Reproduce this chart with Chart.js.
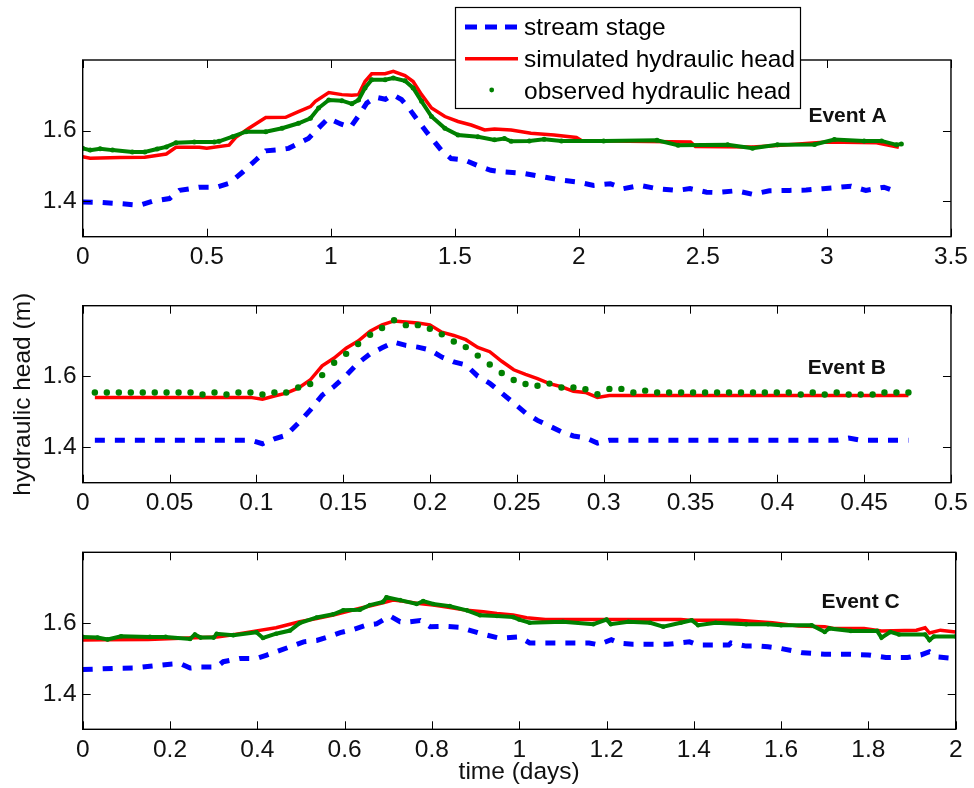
<!DOCTYPE html>
<html><head><meta charset="utf-8">
<script src="https://cdn.jsdelivr.net/npm/chart.js@4"></script>
<style>
html,body{margin:0;padding:0;background:#fff;}
#wrap{position:relative;width:974px;height:788px;overflow:hidden;background:#fff;}
canvas{position:absolute;left:0;}
</style></head><body>
<div id="wrap">
<canvas id="cA" width="974" height="280" style="top:0px"></canvas>
<canvas id="cB" width="974" height="250" style="top:280px"></canvas>
<canvas id="cC" width="974" height="258" style="top:530px"></canvas>
</div>
<script>
// ---------- Series names ----------
const seriesNames = ['stream stage', 'simulated hydraulic head', 'observed hydraulic head'];
const eventNames = ['Event A', 'Event B', 'Event C'];
const yAxisTitle = 'hydraulic head (m)';
const xAxisTitle = 'time (days)';

// ---------- Tick values ----------
const yTicks = [1.4, 1.6];
const xTicksA = [0, 0.5, 1, 1.5, 2, 2.5, 3, 3.5];
const xTicksB = [0, 0.05, 0.1, 0.15, 0.2, 0.25, 0.3, 0.35, 0.4, 0.45, 0.5];
const xTicksC = [0, 0.2, 0.4, 0.6, 0.8, 1, 1.2, 1.4, 1.6, 1.8, 2];
const xLabelsA = ['0', '0.5', '1', '1.5', '2', '2.5', '3', '3.5'];
const xLabelsB = ['0', '0.05', '0.1', '0.15', '0.2', '0.25', '0.3', '0.35', '0.4', '0.45', '0.5'];
const xLabelsC = ['0', '0.2', '0.4', '0.6', '0.8', '1', '1.2', '1.4', '1.6', '1.8', '2'];

// ---------- Event A ----------
const stageA_t = [0, 0.07, 0.16, 0.23, 0.28, 0.35, 0.39, 0.47, 0.54, 0.59, 0.645, 0.698, 0.738, 0.79, 0.83, 0.87, 0.91, 0.95, 0.99, 1.04, 1.08, 1.11, 1.145, 1.18, 1.22, 1.25, 1.285, 1.31, 1.35, 1.39, 1.445, 1.485, 1.54, 1.59, 1.645, 1.70, 1.78, 1.86, 1.93, 1.994, 2.06, 2.127, 2.18, 2.247, 2.315, 2.395, 2.448, 2.515, 2.555, 2.635, 2.70, 2.768, 2.848, 2.916, 2.983, 3.036, 3.097, 3.157, 3.23, 3.29];
const stageA_v = [1.398, 1.397, 1.393, 1.389, 1.400, 1.408, 1.431, 1.440, 1.440, 1.451, 1.483, 1.517, 1.543, 1.546, 1.550, 1.564, 1.578, 1.607, 1.635, 1.619, 1.610, 1.640, 1.678, 1.695, 1.689, 1.702, 1.688, 1.668, 1.630, 1.593, 1.545, 1.521, 1.517, 1.502, 1.488, 1.483, 1.479, 1.469, 1.460, 1.455, 1.445, 1.450, 1.436, 1.445, 1.436, 1.431, 1.436, 1.426, 1.425, 1.430, 1.420, 1.430, 1.431, 1.432, 1.436, 1.439, 1.443, 1.431, 1.440, 1.425];

const simA_t = [0, 0.03, 0.15, 0.25, 0.337, 0.376, 0.47, 0.5, 0.59, 0.617, 0.67, 0.738, 0.818, 0.87, 0.918, 0.938, 0.992, 1.045, 1.085, 1.112, 1.138, 1.165, 1.219, 1.252, 1.299, 1.332, 1.366, 1.406, 1.46, 1.513, 1.566, 1.62, 1.66, 1.727, 1.807, 1.90, 1.99, 2.01, 2.2, 2.45, 2.47, 2.7, 2.8, 3.0, 3.2, 3.29];
const simA_v = [1.526, 1.522, 1.524, 1.525, 1.534, 1.553, 1.553, 1.550, 1.559, 1.581, 1.607, 1.637, 1.638, 1.654, 1.668, 1.683, 1.708, 1.702, 1.700, 1.702, 1.739, 1.761, 1.761, 1.768, 1.756, 1.739, 1.702, 1.664, 1.640, 1.626, 1.616, 1.602, 1.605, 1.602, 1.593, 1.588, 1.581, 1.572, 1.570, 1.568, 1.555, 1.554, 1.558, 1.568, 1.566, 1.553];

const obsA_t = [0, 0.03, 0.07, 0.12, 0.2, 0.25, 0.3, 0.337, 0.376, 0.45, 0.53, 0.55, 0.604, 0.658, 0.738, 0.804, 0.87, 0.918, 0.951, 0.992, 1.045, 1.085, 1.112, 1.138, 1.165, 1.219, 1.252, 1.299, 1.332, 1.366, 1.406, 1.46, 1.513, 1.593, 1.66, 1.70, 1.727, 1.80, 1.86, 1.93, 2.1, 2.315, 2.4, 2.6, 2.70, 2.8, 2.95, 3.03, 3.15, 3.22, 3.28, 3.3];
const obsA_v = [1.550, 1.545, 1.549, 1.545, 1.540, 1.540, 1.548, 1.554, 1.566, 1.568, 1.568, 1.570, 1.583, 1.597, 1.597, 1.607, 1.621, 1.635, 1.664, 1.687, 1.685, 1.676, 1.687, 1.721, 1.744, 1.744, 1.749, 1.741, 1.721, 1.683, 1.640, 1.607, 1.588, 1.583, 1.574, 1.578, 1.570, 1.571, 1.576, 1.571, 1.571, 1.573, 1.559, 1.560, 1.550, 1.560, 1.561, 1.575, 1.571, 1.571, 1.560, 1.562];

// ---------- Event B (10-minute samples) ----------
const timeB = [0.0070, 0.0139, 0.0208, 0.0277, 0.0346, 0.0415, 0.0483, 0.0552, 0.0621, 0.0690, 0.0759, 0.0828, 0.0897, 0.0966, 0.1035, 0.1104, 0.1172, 0.1241, 0.1310, 0.1379, 0.1448, 0.1517, 0.1586, 0.1655, 0.1724, 0.1793, 0.1861, 0.1930, 0.1999, 0.2068, 0.2137, 0.2206, 0.2275, 0.2344, 0.2413, 0.2482, 0.2550, 0.2619, 0.2688, 0.2757, 0.2826, 0.2895, 0.2964, 0.3033, 0.3102, 0.3171, 0.3239, 0.3308, 0.3377, 0.3446, 0.3515, 0.3584, 0.3653, 0.3722, 0.3791, 0.3860, 0.3928, 0.3997, 0.4066, 0.4135, 0.4204, 0.4273, 0.4342, 0.4411, 0.4480, 0.4549, 0.4617, 0.4686, 0.4755];
const stageB = [1.420, 1.420, 1.420, 1.420, 1.420, 1.420, 1.420, 1.420, 1.420, 1.420, 1.420, 1.420, 1.420, 1.420, 1.410, 1.424, 1.434, 1.468, 1.505, 1.547, 1.572, 1.603, 1.638, 1.664, 1.681, 1.697, 1.688, 1.683, 1.675, 1.655, 1.641, 1.633, 1.601, 1.581, 1.553, 1.525, 1.497, 1.476, 1.460, 1.444, 1.432, 1.427, 1.412, 1.420, 1.420, 1.420, 1.420, 1.420, 1.420, 1.420, 1.420, 1.420, 1.420, 1.420, 1.420, 1.420, 1.420, 1.420, 1.420, 1.420, 1.420, 1.420, 1.420, 1.426, 1.420, 1.420, 1.420, 1.420, 1.420];
const simB = [1.541, 1.541, 1.541, 1.541, 1.541, 1.541, 1.541, 1.541, 1.541, 1.541, 1.541, 1.541, 1.541, 1.541, 1.536, 1.545, 1.553, 1.567, 1.590, 1.630, 1.652, 1.680, 1.700, 1.728, 1.746, 1.757, 1.754, 1.751, 1.746, 1.725, 1.716, 1.704, 1.682, 1.670, 1.643, 1.619, 1.606, 1.594, 1.580, 1.571, 1.558, 1.555, 1.541, 1.546, 1.546, 1.546, 1.546, 1.546, 1.546, 1.546, 1.546, 1.546, 1.546, 1.546, 1.546, 1.546, 1.546, 1.546, 1.546, 1.546, 1.546, 1.546, 1.546, 1.546, 1.546, 1.546, 1.546, 1.546, 1.546];
const obsB = [1.555, 1.555, 1.555, 1.555, 1.555, 1.555, 1.555, 1.555, 1.555, 1.549, 1.555, 1.549, 1.555, 1.555, 1.549, 1.555, 1.555, 1.569, 1.579, 1.604, 1.639, 1.664, 1.692, 1.718, 1.737, 1.759, 1.745, 1.745, 1.735, 1.719, 1.699, 1.683, 1.659, 1.634, 1.610, 1.590, 1.579, 1.574, 1.580, 1.569, 1.569, 1.564, 1.550, 1.565, 1.565, 1.555, 1.560, 1.555, 1.555, 1.555, 1.555, 1.555, 1.555, 1.555, 1.555, 1.555, 1.555, 1.555, 1.555, 1.549, 1.555, 1.549, 1.555, 1.549, 1.549, 1.549, 1.555, 1.555, 1.555];

// ---------- Event C ----------
const stageC_t = [0, 0.07, 0.116, 0.154, 0.2, 0.223, 0.246, 0.27, 0.307, 0.322, 0.36, 0.398, 0.42, 0.443, 0.475, 0.506, 0.536, 0.567, 0.59, 0.62, 0.65, 0.673, 0.704, 0.727, 0.75, 0.773, 0.796, 0.827, 0.865, 0.91, 0.956, 1.0, 1.024, 1.06, 1.16, 1.181, 1.211, 1.23, 1.26, 1.34, 1.39, 1.41, 1.48, 1.485, 1.52, 1.55, 1.57, 1.60, 1.65, 1.70, 1.76, 1.80, 1.84, 1.89, 1.92, 1.94, 1.96, 2.0];
const stageC_v = [1.469, 1.472, 1.473, 1.478, 1.484, 1.486, 1.473, 1.476, 1.476, 1.491, 1.500, 1.500, 1.509, 1.519, 1.533, 1.547, 1.551, 1.563, 1.573, 1.582, 1.594, 1.598, 1.620, 1.604, 1.604, 1.607, 1.590, 1.591, 1.588, 1.571, 1.557, 1.561, 1.544, 1.544, 1.544, 1.539, 1.553, 1.543, 1.540, 1.540, 1.547, 1.538, 1.538, 1.544, 1.535, 1.535, 1.533, 1.528, 1.516, 1.512, 1.512, 1.510, 1.503, 1.503, 1.510, 1.519, 1.504, 1.500];

const simC_t = [0, 0.05, 0.15, 0.24, 0.307, 0.345, 0.398, 0.443, 0.497, 0.536, 0.574, 0.612, 0.65, 0.688, 0.711, 0.735, 0.765, 0.803, 0.841, 0.88, 0.918, 0.949, 0.986, 1.017, 1.06, 1.2, 1.37, 1.39, 1.5, 1.58, 1.64, 1.70, 1.72, 1.79, 1.83, 1.91, 1.93, 1.94, 1.965, 2.0];
const simC_v = [1.552, 1.553, 1.554, 1.558, 1.561, 1.567, 1.578, 1.587, 1.604, 1.613, 1.623, 1.635, 1.646, 1.657, 1.665, 1.662, 1.656, 1.651, 1.644, 1.636, 1.632, 1.627, 1.623, 1.615, 1.610, 1.610, 1.610, 1.608, 1.608, 1.601, 1.592, 1.590, 1.585, 1.585, 1.578, 1.580, 1.587, 1.572, 1.580, 1.575];

const obsC_t = [0, 0.034, 0.057, 0.088, 0.154, 0.19, 0.246, 0.257, 0.27, 0.3, 0.307, 0.345, 0.398, 0.413, 0.443, 0.475, 0.497, 0.536, 0.574, 0.597, 0.635, 0.658, 0.688, 0.696, 0.727, 0.765, 0.78, 0.803, 0.841, 0.88, 0.91, 0.949, 0.986, 1.0, 1.024, 1.1, 1.17, 1.2, 1.21, 1.25, 1.3, 1.33, 1.37, 1.395, 1.41, 1.45, 1.52, 1.57, 1.6, 1.67, 1.70, 1.71, 1.76, 1.82, 1.83, 1.85, 1.87, 1.93, 1.94, 1.95, 2.0];
const obsC_v = [1.561, 1.559, 1.554, 1.563, 1.561, 1.561, 1.555, 1.568, 1.559, 1.559, 1.570, 1.566, 1.574, 1.558, 1.570, 1.579, 1.600, 1.616, 1.625, 1.636, 1.638, 1.651, 1.660, 1.673, 1.665, 1.654, 1.662, 1.654, 1.648, 1.636, 1.622, 1.620, 1.617, 1.610, 1.601, 1.604, 1.597, 1.610, 1.597, 1.604, 1.601, 1.590, 1.601, 1.608, 1.594, 1.601, 1.597, 1.597, 1.594, 1.594, 1.575, 1.585, 1.578, 1.578, 1.559, 1.575, 1.568, 1.568, 1.552, 1.562, 1.562];

// ---------- helpers ----------
const BLUE = '#0000ff', RED = '#ff0000', GREEN = '#008000';
const FONT = '"Liberation Sans", Arial, Helvetica, sans-serif';
const FS = 24.5;
const pts = (t, v) => t.map((x, i) => ({x: x, y: v[i]}));

function drawLegend(ctx) {
  ctx.save();
  ctx.fillStyle = '#fff';
  ctx.fillRect(455.5, 7.5, 345, 101);
  ctx.strokeStyle = '#000';
  ctx.lineWidth = 1.2;
  ctx.strokeRect(455.5, 7.5, 345, 101);
  ctx.strokeStyle = BLUE; ctx.lineWidth = 5; ctx.setLineDash([12, 8]);
  ctx.beginPath(); ctx.moveTo(465, 27); ctx.lineTo(518, 27); ctx.stroke();
  ctx.setLineDash([]);
  ctx.strokeStyle = RED; ctx.lineWidth = 3.5;
  ctx.beginPath(); ctx.moveTo(465, 58.7); ctx.lineTo(518, 58.7); ctx.stroke();
  ctx.fillStyle = GREEN;
  ctx.beginPath(); ctx.arc(491.7, 90, 2.4, 0, Math.PI * 2); ctx.fill();
  ctx.fillStyle = '#000';
  ctx.font = FS + 'px ' + FONT;
  ctx.textAlign = 'left'; ctx.textBaseline = 'alphabetic';
  ctx.fillText(seriesNames[0], 524, 34.5);
  ctx.fillText(seriesNames[1], 524, 66.5);
  ctx.fillText(seriesNames[2], 524, 98.5);
  ctx.restore();
}

const framePlugin = {
  id: 'frame',
  afterDraw(chart, args, opts) {
    const {ctx, chartArea: a} = chart;
    const x = chart.scales.x, y = chart.scales.y;
    ctx.save();
    ctx.strokeStyle = '#000';
    ctx.lineWidth = 1;
    const L = 8;
    ctx.beginPath();
    x.ticks.forEach(t => {
      const px = Math.round(x.getPixelForValue(t.value)) + 0.5;
      ctx.moveTo(px, a.bottom); ctx.lineTo(px, a.bottom - L);
      ctx.moveTo(px, a.top); ctx.lineTo(px, a.top + L);
    });
    y.ticks.forEach(t => {
      const py = Math.round(y.getPixelForValue(t.value)) + 0.5;
      ctx.moveTo(a.left, py); ctx.lineTo(a.left + L, py);
      ctx.moveTo(a.right, py); ctx.lineTo(a.right - L, py);
    });
    ctx.stroke();
    ctx.lineWidth = 1.4;
    ctx.strokeRect(a.left, a.top, a.right - a.left, a.bottom - a.top);
    ctx.font = 'bold 21px ' + FONT;
    ctx.fillStyle = '#111';
    ctx.textAlign = 'center';
    ctx.textBaseline = 'middle';
    ctx.fillText(opts.text, x.getPixelForValue(opts.tx), y.getPixelForValue(opts.ty));
    if (opts.legend) drawLegend(ctx);
    ctx.restore();
  }
};

function makeChart(id, cfg) {
  const datasets = [
    {label: seriesNames[0], data: cfg.stage, borderColor: BLUE, backgroundColor: BLUE,
     borderWidth: 5, borderDash: [10, 10], pointRadius: 0, fill: false, tension: 0, order: 3},
    {label: seriesNames[1], data: cfg.sim, borderColor: RED, backgroundColor: RED,
     borderWidth: 3.5, pointRadius: 0, fill: false, tension: 0, order: 2},
    {label: seriesNames[2], data: cfg.obs, borderColor: GREEN, backgroundColor: GREEN,
     pointBackgroundColor: GREEN, pointBorderWidth: 0,
     showLine: cfg.obsLine, borderWidth: cfg.obsLine ? 4 : 0,
     pointRadius: cfg.obsRadius, fill: false, tension: 0, order: 1}
  ];
  return new Chart(document.getElementById(id), {
    type: 'line',
    data: {datasets},
    plugins: [framePlugin],
    options: {
      responsive: false,
      maintainAspectRatio: false,
      devicePixelRatio: 1,
      animation: false,
      events: [],
      layout: {padding: {left: 0, right: 18.3, top: cfg.padTop, bottom: 0}},
      plugins: {
        legend: {display: false},
        tooltip: {enabled: false},
        frame: {text: cfg.eventName, tx: cfg.tx, ty: cfg.ty, legend: !!cfg.legend}
      },
      scales: {
        x: {
          type: 'linear', position: 'bottom', min: cfg.xmin, max: cfg.xmax,
          afterBuildTicks: s => { s.ticks = cfg.xTicks.map(v => ({value: v})); },
          afterFit: s => { s.height = cfg.xHeight; },
          grid: {display: false, drawTicks: false},
          border: {display: false},
          ticks: {autoSkip: false, maxRotation: 0, minRotation: 0, padding: 6, color: '#111',
                  font: {family: FONT, size: FS},
                  callback: (v, i) => cfg.xLabels[i]},
          title: cfg.xTitle ? {display: true, text: xAxisTitle, color: '#111',
                  font: {family: FONT, size: FS}, padding: {top: 0, bottom: 1}} : {display: false}
        },
        y: {
          type: 'linear', position: 'left', min: 1.3, max: 1.8,
          afterBuildTicks: s => { s.ticks = yTicks.map(v => ({value: v})); },
          afterFit: s => { s.width = 82.7; },
          grid: {display: false, drawTicks: false},
          border: {display: false},
          ticks: {padding: 6, color: '#111', font: {family: FONT, size: FS},
                  callback: v => v.toFixed(1)},
          title: cfg.yTitle ? {display: true, text: yAxisTitle, color: '#111',
                  font: {family: FONT, size: FS}, padding: {top: 9, bottom: 0}} : {display: false}
        }
      }
    }
  });
}

makeChart('cA', {
  stage: pts(stageA_t, stageA_v), sim: pts(simA_t, simA_v), obs: pts(obsA_t, obsA_v),
  obsLine: true, obsRadius: 2.5, padTop: 60, xHeight: 43.3, xmin: 0, xmax: 3.5,
  xTicks: xTicksA, xLabels: xLabelsA, eventName: eventNames[0], tx: 3.083, ty: 1.640, legend: true
});
makeChart('cB', {
  stage: pts(timeB, stageB), sim: pts(timeB, simB), obs: pts(timeB, obsB),
  obsLine: false, obsRadius: 3.2, padTop: 25.7, xHeight: 47.3, xmin: 0, xmax: 0.5,
  xTicks: xTicksB, xLabels: xLabelsB, eventName: eventNames[1], tx: 0.44, ty: 1.623, yTitle: true
});
makeChart('cC', {
  stage: pts(stageC_t, stageC_v), sim: pts(simC_t, simC_v), obs: pts(obsC_t, obsC_v),
  obsLine: true, obsRadius: 2.3, padTop: 22.3, xHeight: 58.7, xmin: 0, xmax: 2,
  xTicks: xTicksC, xLabels: xLabelsC, eventName: eventNames[2], tx: 1.782, ty: 1.660, xTitle: true
});
</script>
</body></html>
